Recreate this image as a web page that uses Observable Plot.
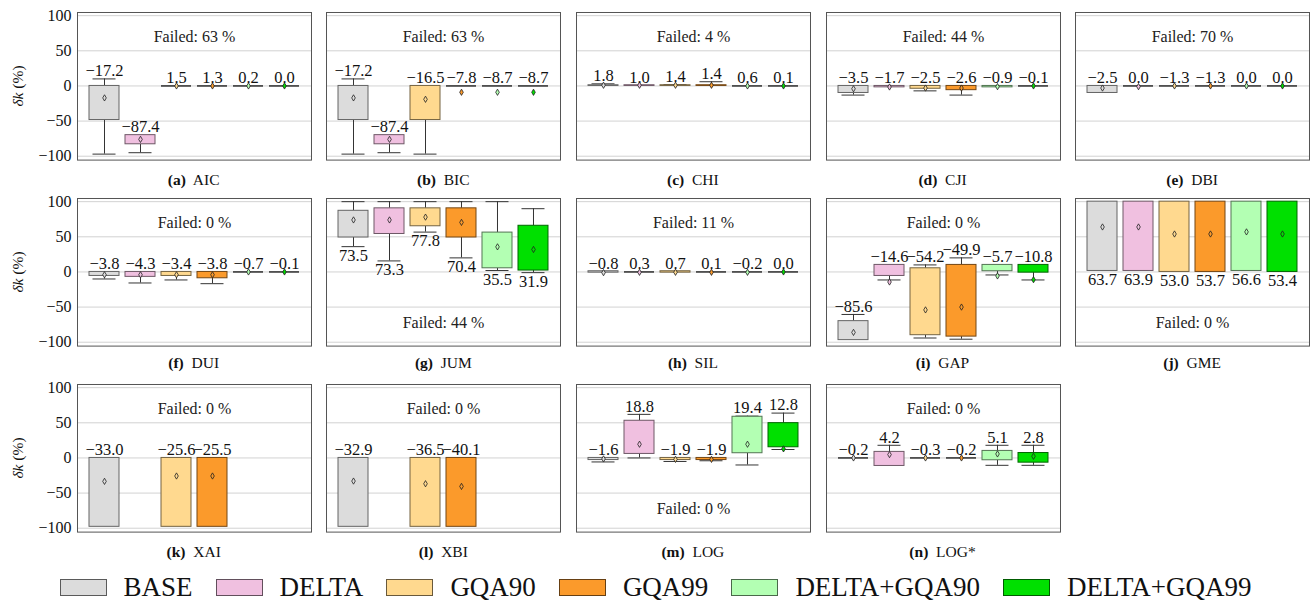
<!DOCTYPE html>
<html><head><meta charset="utf-8">
<script src="https://cdn.jsdelivr.net/npm/d3@7"></script>
<script src="https://cdn.jsdelivr.net/npm/@observablehq/plot@0.6"></script>
<style>
body{margin:0;background:#fff;font-family:"Liberation Serif","Times New Roman","DejaVu Serif",serif;color:#111}
#root{position:relative;width:1311px;height:601px;background:#fff}
.panel{position:absolute}
.cap{position:absolute;width:234px;text-align:center;font-size:15.5px;line-height:18px;transform:translateY(-50%)}
.ylab{position:absolute;font-size:15.5px;line-height:18px;white-space:nowrap;transform:translate(-50%,-50%) rotate(-90deg)}
#legend{position:absolute;left:0;width:1311px;top:574px;height:26px;display:flex;justify-content:center;align-items:center;gap:23px;font-size:27px;line-height:26px}
#legend .item{display:flex;align-items:center}
#legend .sw{display:inline-block;width:45px;height:15px;margin-right:17px;border:1px solid #333}
</style></head><body><div id="root"></div><script>
// ---------- data ----------
const methods = ["BASE", "DELTA", "GQA90", "GQA99", "DELTA+GQA90", "DELTA+GQA99"];
const methodColors = ["#dcdcdc", "#f0c0e0", "#ffd98f", "#fb9a2b", "#b3ffb3", "#00e000"];
const panelNames = ["AIC", "BIC", "CHI", "CJI", "DBI", "DUI", "JUM", "SIL", "GAP", "GME", "XAI", "XBI", "LOG", "LOG*"];
const panelLetters = ["a", "b", "c", "d", "e", "f", "g", "h", "i", "j", "k", "l", "m", "n"];
const failedPct = [63, 63, 4, 44, 70, 0, 44, 11, 0, 0, 0, 0, 0, 0];
const yTicks = [-100, -50, 0, 50, 100];

// lower whisker
const whiskerLow = [
  [-97, -95, 0, 0, 0, 0],
  [-97, -95, -97, 0, 0, 0],
  [0, 0, 0, 0, 0, 0],
  [-13, -2, -7, -13, -2, 0],
  [-10, 0, 0, 0, 0, 0],
  [-10, -15.7, -11.4, -16.7, 0, 0],
  [36, 15.7, 56.7, 20, 2, -1],
  [-1, 0, -1, 0, 0, 0],
  [-97, -11.4, -94, -95.7, -4.3, -11.4],
  [1.4, 1.4, 0, 0, 1.4, 0],
  [-98, null, -98, -98, null, null],
  [-98, null, -98, -98, null, null],
  [-5.7, 0, -5, -4, -10, 12],
  [0, -11.4, 0, 0, -10.5, -10.5]
];
// lower quartile (box bottom)
const boxLow = [
  [-48.5, -83, 0, 0, 0, 0],
  [-48.5, -83, -48.5, 0, 0, 0],
  [0, 0, 0, 0, 0, 0],
  [-10, -2, -4, -6, -2, 0],
  [-10, 0, 0, 0, 0, 0],
  [-5.7, -7, -5.7, -9, 0, 0],
  [49, 54, 65, 49, 5.2, 2],
  [-1, 0, -1, 0, 0, 0],
  [-97, -5.7, -90, -92, 1, -1],
  [1.4, 1.4, 0, 0, 1.4, 0],
  [-98, null, -98, -98, null, null],
  [-98, null, -98, -98, null, null],
  [-3, 5.7, -3, -3, 6.7, 15.2],
  [0, -11.4, 0, 0, -3.3, -6.7]
];
// upper quartile (box top)
const boxHigh = [
  [0, -70, 0, 0, 0, 0],
  [0, -70, 0, 0, 0, 0],
  [1, 1, 1, 1, 0, 0],
  [0, 0, 0, 0, 0, 0],
  [0, 0, 0, 0, 0, 0],
  [0, 0, 0, 0, 0, 0],
  [87, 90.5, 90.5, 90.5, 56, 65.7],
  [1, 0, 1, 0, 0, 0],
  [-70, 10, 5.2, 10, 10, 10],
  [100, 100, 100, 100, 100, 100],
  [0, null, 0, 0, null, null],
  [0, null, 0, 0, null, null],
  [0, 52.9, 0, 0, 58.6, 49.5],
  [0, 8.6, 0, 0, 10, 7]
];
// upper whisker
const whiskerHigh = [
  [10, -70, 0, 0, 0, 0],
  [10, -70, 0, 0, 0, 0],
  [3, 1, 2, 6, 0, 0],
  [0, 0, 0, 0, 0, 0],
  [0, 0, 0, 0, 0, 0],
  [0, 0, 0, 0, 0, 0],
  [100, 100, 100, 100, 100, 90],
  [1, 0, 1, 0, 0, 0],
  [-60.5, 10, 10, 20, 10, 10],
  [100, 100, 100, 100, 100, 100],
  [0, null, 0, 0, null, null],
  [0, null, 0, 0, null, null],
  [0, 62, 0, 0, 59.5, 63.8],
  [0, 18, 0, 0, 18, 18]
];
// mean (diamond)
const meanValue = [
  [-17, -76, 0, 0, 0, 0],
  [-17, -76, -19, -9, -9, -9],
  [1, 1, 1, 1, 0, 0],
  [-4, -1.5, -3, -3, -1, 0],
  [-3, -1, 0, 0, 0, 0],
  [-4, -4, -4, -4, 0, 0],
  [74, 74, 78, 70.5, 35.7, 32],
  [-1, -0.5, -0.5, -0.5, -0.5, 0],
  [-86, -14.3, -54, -50, -5.7, -11],
  [64, 64, 54, 54, 57, 54],
  [-33.3, null, -25.7, -25.7, null, null],
  [-32.9, null, -36.7, -40.5, null, null],
  [-1.4, 19.5, -2, -2, 19.5, 12.9],
  [0, 4.8, 0, 0, 5.7, 2.4]
];
// printed value
const labelValue = [
  [-17.2, -87.4, 1.5, 1.3, 0.2, 0.0],
  [-17.2, -87.4, -16.5, -7.8, -8.7, -8.7],
  [1.8, 1.0, 1.4, 1.4, 0.6, 0.1],
  [-3.5, -1.7, -2.5, -2.6, -0.9, -0.1],
  [-2.5, 0.0, -1.3, -1.3, 0.0, 0.0],
  [-3.8, -4.3, -3.4, -3.8, -0.7, -0.1],
  [73.5, 73.3, 77.8, 70.4, 35.5, 31.9],
  [-0.8, 0.3, 0.7, 0.1, -0.2, 0.0],
  [-85.6, -14.6, -54.2, -49.9, -5.7, -10.8],
  [63.7, 63.9, 53.0, 53.7, 56.6, 53.4],
  [-33.0, null, -25.6, -25.5, null, null],
  [-32.9, null, -36.5, -40.1, null, null],
  [-1.6, 18.8, -1.9, -1.9, 19.4, 12.8],
  [-0.2, 4.2, -0.3, -0.2, 5.1, 2.8]
];

// ---------- layout ----------
const serif = "'Liberation Serif', 'Times New Roman', 'DejaVu Serif', serif";
const bottomLabelPanels = ["JUM", "GME"];
const bottomNotePanels = ["JUM", "GME", "LOG"];
const W = 234, H = 147.6;
const colLeft = [76.7, 326.3, 575.9, 825.5, 1075.1];
const rowTop = [11.7, 198.3, 384.4];
const captionY = [180, 363.3, 551.7];
const fmt1 = d3.format(".1f");
const fmtTick = d3.format("d");
const root = document.getElementById("root");

panelNames.forEach((name, k) => {
  const col = k % 5, row = Math.floor(k / 5);
  const rows = methods.map((m, j) => ({
    m,
    fill: methodColors[j],
    edge: d3.color(methodColors[j]).darker(2.2).formatHex(),
    lo: whiskerLow[k][j], q1: boxLow[k][j], q3: boxHigh[k][j], hi: whiskerHigh[k][j],
    mean: meanValue[k][j], label: labelValue[k][j]
  })).filter(d => d.q1 != null);
  const below = bottomLabelPanels.includes(name);
  const noteBottom = bottomNotePanels.includes(name);
  const ml = col === 0 ? 60 : 8, mr = 8, mt = 8, mb = 8;
  const svg = Plot.plot({
    width: W + ml + mr,
    height: H + mt + mb,
    marginLeft: ml, marginRight: mr, marginTop: mt, marginBottom: mb,
    x: {type: "band", domain: methods, paddingInner: 0.18, paddingOuter: 0.273, axis: null},
    y: {domain: [-105.5, 104.5], ticks: yTicks, tickFormat: fmtTick, tickSize: 0, tickPadding: 6,
        label: null, axis: col === 0 ? "left" : null},
    color: {type: "identity"},
    style: {fontFamily: serif, fontSize: "16px", color: "#111", background: "transparent", overflow: "visible"},
    marks: [
      Plot.ruleY(yTicks, {stroke: "#d2d2d2"}),
      Plot.ruleX(rows.filter(d => d.lo < d.q1), {x: "m", y1: "lo", y2: "q1", stroke: "#333"}),
      Plot.ruleX(rows.filter(d => d.hi > d.q3), {x: "m", y1: "q3", y2: "hi", stroke: "#333"}),
      Plot.tickY(rows.filter(d => d.lo < d.q1), {x: "m", y: "lo", inset: 3.5, stroke: "#333"}),
      Plot.tickY(rows.filter(d => d.hi > d.q3), {x: "m", y: "hi", inset: 3.5, stroke: "#333"}),
      Plot.barY(rows.filter(d => d.q3 - d.q1 >= 0.5), {x: "m", y1: "q1", y2: "q3", fill: "fill", stroke: "edge", strokeWidth: 1}),
      Plot.tickY(rows.filter(d => d.q3 - d.q1 < 0.5), {x: "m", y: "q3", stroke: "#111", strokeWidth: 1.3}),
      Plot.dot(rows, {x: "m", y: "mean", symbol: "diamond", r: 1.9, fill: "fill", stroke: "#222", strokeWidth: 0.8}),
      Plot.text(rows, {x: "m", y: below ? "lo" : "hi", text: d => fmt1(d.label), dy: below ? 9 : -8, fontSize: 16.5, fill: "#111"}),
      Plot.text([`Failed: ${failedPct[k]} %`], {frameAnchor: noteBottom ? "bottom" : "top", dy: noteBottom ? -17.6 : 18.6, fontSize: 16, fill: "#222"}),
      Plot.frame({stroke: "#555"})
    ]
  });
  svg.classList.add("panel");
  svg.style.left = (colLeft[col] - ml) + "px";
  svg.style.top = (rowTop[row] - mt) + "px";
  svg.style.fontFamily = serif;
  root.appendChild(svg);

  const cap = document.createElement("div");
  cap.className = "cap";
  cap.style.left = colLeft[col] + "px";
  cap.style.top = captionY[row] + "px";
  cap.innerHTML = `<b>(${panelLetters[k]})</b>&nbsp; ${name}`;
  root.appendChild(cap);

  if (col === 0) {
    const yl = document.createElement("div");
    yl.className = "ylab";
    yl.style.left = "17.5px";
    yl.style.top = (rowTop[row] + H / 2) + "px";
    yl.innerHTML = "<i>δk</i> (%)";
    root.appendChild(yl);
  }
});

const legend = document.createElement("div");
legend.id = "legend";
methods.forEach((m, j) => {
  const it = document.createElement("div");
  it.className = "item";
  const sw = document.createElement("span");
  sw.className = "sw";
  sw.style.background = methodColors[j];
  sw.style.borderColor = d3.color(methodColors[j]).darker(2.5).formatHex();
  const tx = document.createElement("span");
  tx.textContent = m;
  it.appendChild(sw); it.appendChild(tx);
  legend.appendChild(it);
});
root.appendChild(legend);
</script></body></html>
